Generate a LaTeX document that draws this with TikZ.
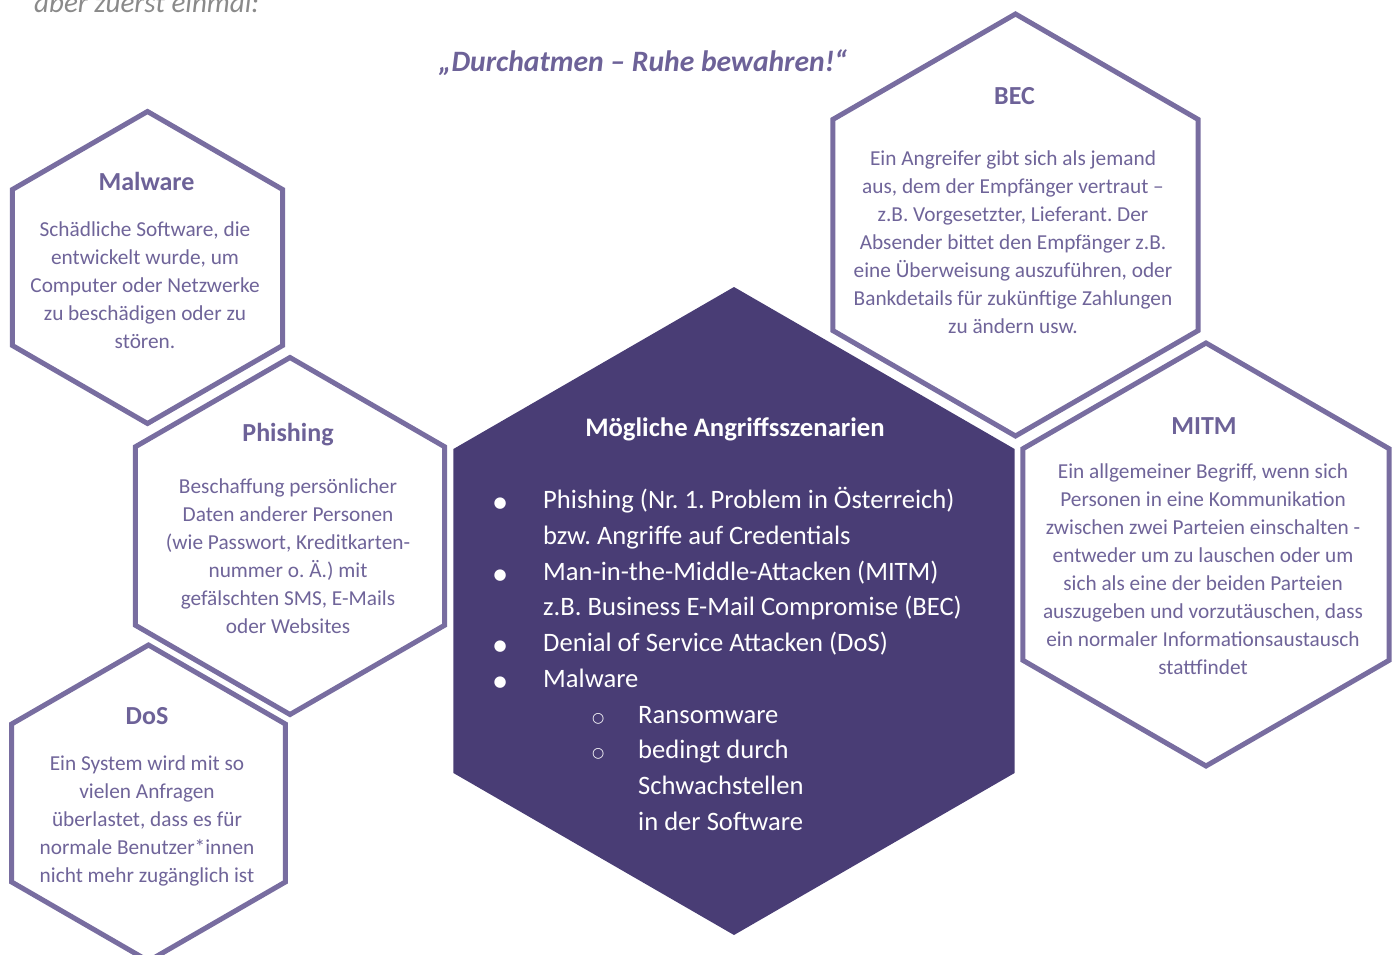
\documentclass[tikz,border=0pt]{standalone}
\usepackage{fontspec}
\setmainfont{Carlito}
\newfontfamily\dejavu{DejaVu Sans}
\frenchspacing
\definecolor{hexcol}{HTML}{786DA0}
\definecolor{headcol}{HTML}{6D6298}
\definecolor{bodycol}{HTML}{6F6499}
\definecolor{centercol}{HTML}{493D75}
\definecolor{graycol}{HTML}{8A8A8A}
\tikzset{
  hexline/.style={draw=hexcol, line width=5pt, fill=white},
  hexfill/.style={fill=centercol},
  hexhead/.style={text=headcol, font=\fontsize{26}{30}\selectfont\bfseries, anchor=base, inner sep=0pt},
  hexbody/.style={text=bodycol, font=\fontsize{21.3}{28}\selectfont, align=center, anchor=north, inner sep=0pt},
  centerhead/.style={text=white, font=\fontsize{26.7}{30}\selectfont\bfseries, anchor=base, inner sep=0pt},
  centerlist/.style={text=white, font=\fontsize{26.6}{35.75}\selectfont, align=left, anchor=north west, inner sep=0pt},
}
\newcommand\hexshape[4]{%
  \path[#1] ({#2},{#3-#4}) -- ({#2+0.866025*#4},{#3-0.5*#4}) -- ({#2+0.866025*#4},{#3+0.5*#4})
    -- ({#2},{#3+#4}) -- ({#2-0.866025*#4},{#3+0.5*#4}) -- ({#2-0.866025*#4},{#3-0.5*#4}) -- cycle;}
\newcommand\blt{\makebox[0pt]{\raisebox{1pt}{\dejavu\fontsize{15}{15}\selectfont ●}}}
\newcommand\sblt{\makebox[0pt]{\raisebox{1pt}{\dejavu\fontsize{14}{14}\selectfont ○}}}
\begin{document}
\begin{tikzpicture}[x=1pt,y=-1pt]
\useasboundingbox (0,0) rectangle (1397,955);
\clip (0,0) rectangle (1397,955);

% top texts
\node[anchor=base west, inner sep=0pt, text=graycol, font=\fontsize{29}{32}\selectfont\itshape] (intro) at (34,13) {aber zuerst einmal:};
\node[anchor=base, inner sep=0pt, text=headcol, font=\fontsize{29.6}{34}\selectfont\bfseries\itshape] (motto) at (643,72) {„Durchatmen – Ruhe bewahren!“};

% hexagons
\hexshape{hexline}{147.5}{267.5}{156}
\hexshape{hexline}{290}{536}{178.5}
\hexshape{hexline}{148.5}{803}{158}
\hexshape{hexline}{1015.5}{225}{211}
\hexshape{hexline}{1206}{554.5}{211.5}
\hexshape{hexfill}{734}{611}{324}

% Malware
\node[hexhead] (malwareH) at (146.5,190) {Malware};
\node[hexbody] (malwareB) at (145,216.4) {\strut Schädliche Software, die\\entwickelt wurde, um\\Computer oder Netzwerke\\zu beschädigen oder zu\\stören.};

% Phishing
\node[hexhead] (phishH) at (288,441) {Phishing};
\node[hexbody] (phishB) at (288,473.4) {\strut Beschaffung persönlicher\\Daten anderer Personen\\(wie Passwort, Kreditkarten-\\nummer o. Ä.) mit\\gefälschten SMS, E-Mails\\oder Websites};

% DoS
\node[hexhead] (dosH) at (147,724) {DoS};
\node[hexbody] (dosB) at (147,750.4) {\strut Ein System wird mit so\\vielen Anfragen\\überlastet, dass es für\\normale Benutzer*innen\\nicht mehr zugänglich ist};

% BEC
\node[hexhead] (becH) at (1014.5,105) {BEC};
\node[hexbody] (becB) at (1013,145.4) {\strut Ein Angreifer gibt sich als jemand\\aus, dem der Empfänger vertraut –\\z.B. Vorgesetzter, Lieferant. Der\\Absender bittet den Empfänger z.B.\\eine Überweisung auszuführen, oder\\Bankdetails für zukünftige Zahlungen\\zu ändern usw.};

% MITM
\node[hexhead] (mitmH) at (1204,434) {MITM};
\node[hexbody] (mitmB) at (1203,459) {\strut Ein allgemeiner Begriff, wenn sich\\Personen in eine Kommunikation\\zwischen zwei Parteien einschalten -\\entweder um zu lauschen oder um\\sich als eine der beiden Parteien\\auszugeben und vorzutäuschen, dass\\ein normaler Informationsaustausch\\stattfindet};

% center
\node[centerhead] (centerH) at (735,436) {Mögliche Angriffsszenarien};
\node[centerlist] (centerL) at (500,483.5) {\strut\blt\hspace*{43pt}Phishing (Nr. 1. Problem in Österreich)\\
\hspace*{43pt}bzw. Angriffe auf Credentials\\
\blt\hspace*{43pt}Man-in-the-Middle-Attacken (MITM)\\
\hspace*{43pt}z.B. Business E-Mail Compromise (BEC)\\
\blt\hspace*{43pt}Denial of Service Attacken (DoS)\\
\blt\hspace*{43pt}Malware\\
\hspace*{98pt}\sblt\hspace*{40pt}Ransomware\\
\hspace*{98pt}\sblt\hspace*{40pt}bedingt durch\\
\hspace*{138pt}Schwachstellen\\
\hspace*{138pt}in der Software};
\end{tikzpicture}
\end{document}
